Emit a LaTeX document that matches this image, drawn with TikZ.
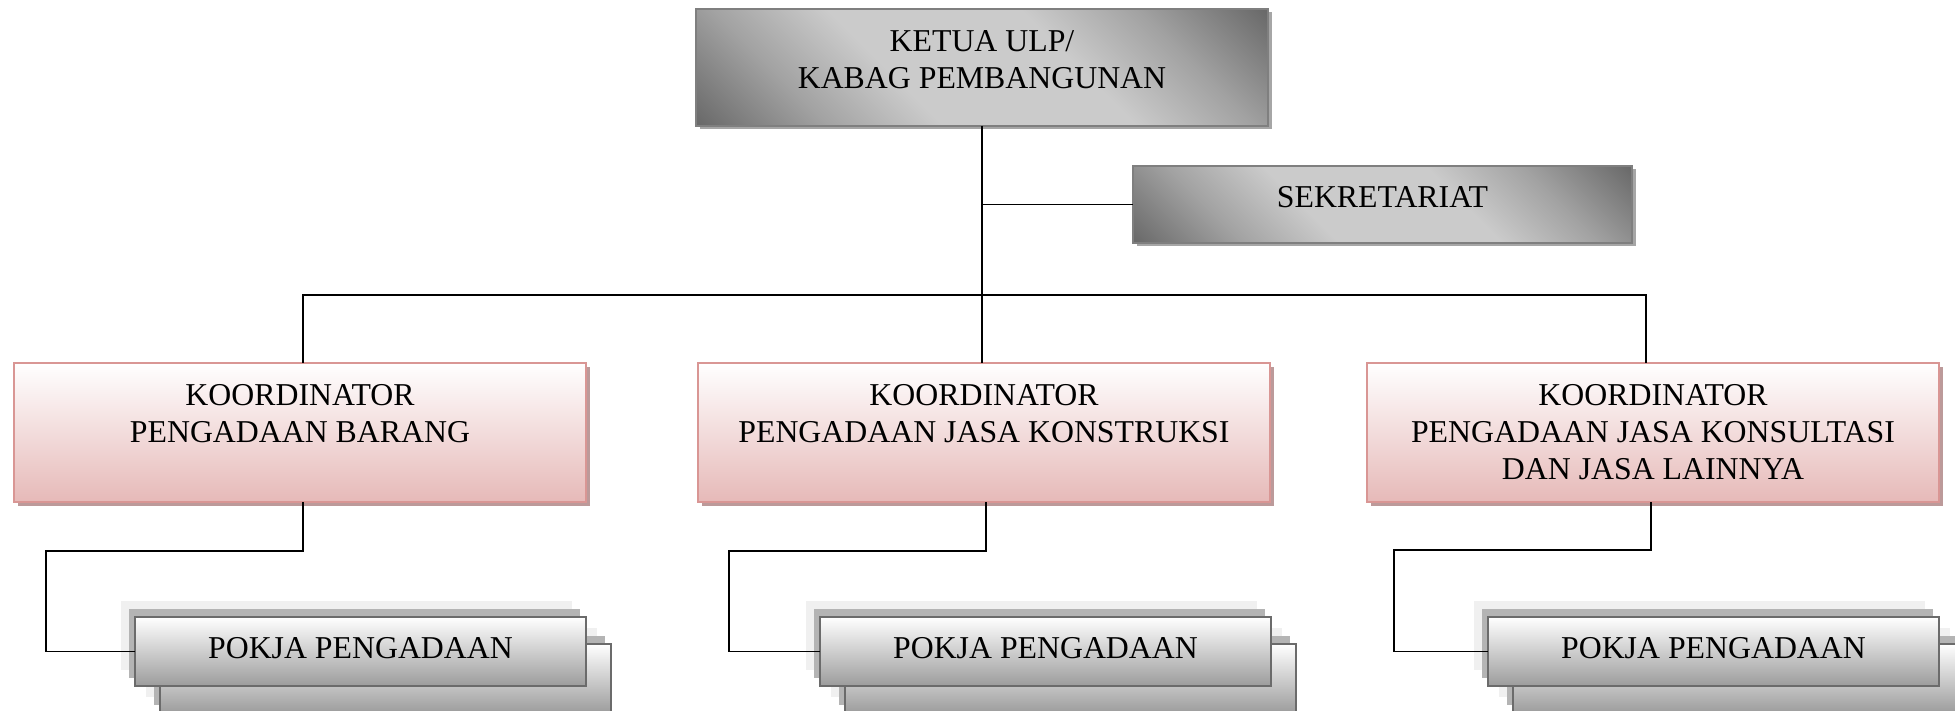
\documentclass[tikz,border=0pt]{standalone}
\usepackage{fontspec}
\setmainfont{Liberation Serif}
\usetikzlibrary{shadows}
\definecolor{kdark}{HTML}{6A6A6A}
\definecolor{kmid}{HTML}{A2A2A2}
\definecolor{klight}{HTML}{CBCBCB}
\definecolor{kborder}{HTML}{7F7F7F}
\definecolor{kshadow}{HTML}{A6A6A6}
\definecolor{pinkb}{HTML}{E6B9B8}
\definecolor{pinkborder}{HTML}{D99694}
\definecolor{pinkshadow}{HTML}{BC9A9A}
\definecolor{pbot}{HTML}{9C9C9C}
\definecolor{pborder}{HTML}{6B6B6B}
\definecolor{shA}{HTML}{F0F0F0}
\definecolor{shB}{HTML}{B4B4B4}
\pgfdeclarehorizontalshading{gshade}{100bp}{color(0bp)=(kdark); color(15bp)=(kdark); color(28bp)=(kmid); color(40bp)=(klight); color(60bp)=(klight); color(72bp)=(kmid); color(85bp)=(kdark); color(100bp)=(kdark)}
\begin{document}
\begin{tikzpicture}[x=0.5pt,y=-0.5pt,
  every node/.style={inner sep=0pt, outer sep=0pt},
  txt/.style={font=\fontsize{15.9}{18.5}\selectfont, align=center, anchor=north, text=black},
  graybox/.style={rectangle, draw=kborder, line width=0.8pt, shading=gshade, shading angle=45,
    general shadow={fill=kshadow, shadow xshift=1.75pt, shadow yshift=-1.75pt}},
  koordbox/.style={rectangle, draw=pinkborder, line width=1pt, top color=white, bottom color=pinkb,
    minimum width=286pt, minimum height=69.5pt,
    general shadow={fill=pinkshadow, shadow xshift=2pt, shadow yshift=-2pt}},
  pokjabox/.style={rectangle, draw=pborder, line width=1.2pt, top color=white, bottom color=pbot,
    minimum width=225.5pt, minimum height=34.5pt,
    general shadow={fill=shA, shadow xshift=-7pt, shadow yshift=8pt},
    general shadow={fill=shB, shadow xshift=-3pt, shadow yshift=4pt}},
  conn/.style={draw=black, line width=0.8pt}
]
\useasboundingbox (0,0) rectangle (1955,711);
\clip (0,0) rectangle (1955,711);

% top
\node[graybox, minimum width=286pt, minimum height=58.5pt] (ketua) at (982,67.5) {};
\node[txt] (ketuat) at ([yshift=-10.75pt]ketua.north) {KETUA ULP/\\KABAG PEMBANGUNAN};

\node[graybox, minimum width=249.5pt, minimum height=38.5pt] (sek) at (1382.5,204.5) {};
\node[txt] (sekt) at ([yshift=-10pt]sek.north) {SEKRETARIAT};

% koordinators
\node[koordbox] (k1) at (300,432.5) {};
\node[txt] (k1t) at ([yshift=-10.75pt]k1.north) {KOORDINATOR\\PENGADAAN BARANG};
\node[koordbox] (k2) at (984,432.5) {};
\node[txt] (k2t) at ([yshift=-10.75pt]k2.north) {KOORDINATOR\\PENGADAAN JASA KONSTRUKSI};
\node[koordbox] (k3) at (1653,432.5) {};
\node[txt] (k3t) at ([yshift=-10.75pt]k3.north) {KOORDINATOR\\PENGADAAN JASA KONSULTASI\\DAN JASA LAINNYA};

% pokja stacks
\node[pokjabox] (pk1b) at (385.5,678.5) {};
\node[pokjabox] (pk1) at (360.5,651.5) {};
\node[txt] (pk1t) at ([yshift=-10.25pt]pk1.north) {POKJA PENGADAAN};
\node[pokjabox] (pk2b) at (1070.5,678.5) {};
\node[pokjabox] (pk2) at (1045.5,651.5) {};
\node[txt] (pk2t) at ([yshift=-10.25pt]pk2.north) {POKJA PENGADAAN};
\node[pokjabox] (pk3b) at (1738.5,678.5) {};
\node[pokjabox] (pk3) at (1713.5,651.5) {};
\node[txt] (pk3t) at ([yshift=-10.25pt]pk3.north) {POKJA PENGADAAN};

% connectors
\draw[conn] (ketua.south) -- (ketua.south |- k2.north);
\draw[conn] (ketua.south |- sek.west) -- (sek.west);
\coordinate (bl) at (303,295);
\coordinate (br) at (1646,295);
\draw[conn] (bl |- k1.north) -- (bl) -- (br) -- (br |- k3.north);

\coordinate (e1) at (46,551);
\coordinate (e2) at (729,551);
\coordinate (e3) at (1394,550);
\coordinate (s1) at (303,0);
\coordinate (s2) at (986,0);
\coordinate (s3) at (1651,0);
\draw[conn] (s1 |- k1.south) |- (e1) |- (pk1.west);
\draw[conn] (s2 |- k2.south) |- (e2) |- (pk2.west);
\draw[conn] (s3 |- k3.south) |- (e3) |- (pk3.west);
\end{tikzpicture}
\end{document}
